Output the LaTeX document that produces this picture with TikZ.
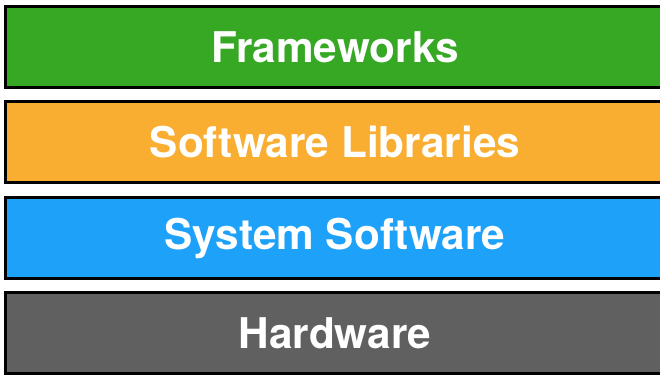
\documentclass[tikz,border=0pt]{standalone}
\usepackage{fontspec}
\setmainfont{TeX Gyre Heros}
\definecolor{cgreen}{HTML}{36A824}
\definecolor{corange}{HTML}{F9AE31}
\definecolor{cblue}{HTML}{1EA1F9}
\definecolor{cgray}{HTML}{606060}
\tikzset{layer/.style={draw=black, line width=3pt, minimum width=660pt, minimum height=81pt, inner sep=0pt, text=white, font=\fontsize{42.3}{48}\selectfont\bfseries}}
\begin{document}
\begin{tikzpicture}[x=1pt,y=-1pt]
\useasboundingbox (0,0) rectangle (660,378);
\clip (0,0) rectangle (660,378);
\fill[white] (0,0) rectangle (660,378);
\node[layer, fill=cgreen] (fw) at (335,47) {Frameworks};
\node[layer, fill=corange] (sl) at (335,142) {Software Libraries};
\node[layer, fill=cblue] (ss) at (335,238) {System Software};
\node[layer, fill=cgray] (hw) at (335,333) {Hardware};
\end{tikzpicture}
\end{document}
